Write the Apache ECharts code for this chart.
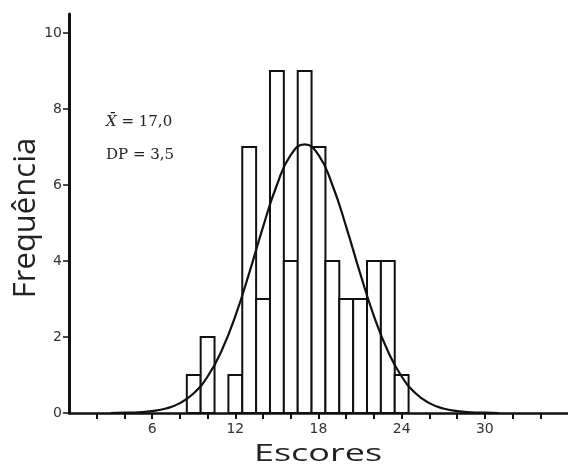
<!DOCTYPE html>
<html>
<head>
<meta charset="utf-8">
<script src="https://cdn.jsdelivr.net/npm/echarts@6/dist/echarts.min.js"></script>
<style>html,body{margin:0;padding:0;background:#fff}#c{width:568px;height:465px}</style>
</head>
<body>
<div id="c"></div>
<script>
// Histogram bins (score centers) and frequencies
const binCenters = [9, 10, 11, 12, 13, 14, 15, 16, 17, 18, 19, 20, 21, 22, 23, 24];
const frequencies = [1, 2, 0, 1, 7, 3, 9, 4, 9, 7, 4, 3, 3, 4, 4, 1];
// Fitted curve
const curveX = [3, 4, 5, 6, 7, 8, 9, 10, 11, 12, 13, 14, 15, 16, 17, 18, 19, 20, 21, 22, 23, 24, 25, 26, 27, 28, 29, 30, 31];
const curveY = [0.00, 0.01, 0.02, 0.05, 0.12, 0.26, 0.52, 0.96, 1.63, 2.55, 3.68, 4.90, 6.00, 6.79, 7.07, 6.79, 6.00, 4.90, 3.68, 2.55, 1.63, 0.96, 0.52, 0.26, 0.12, 0.05, 0.02, 0.01, 0.00];
// Tick marks and labels
const xTicks = [2, 4, 6, 8, 10, 12, 14, 16, 18, 20, 22, 24, 26, 28, 30, 32, 34];
const xLabels = [6, 12, 18, 24, 30];
const yTicks = [0, 2, 4, 6, 8, 10];
const xTitle = 'Escores';
const yTitle = 'Frequência';
const meanLabel = 'X\u0304';
const meanValue = ' = 17,0';
const sdText = 'DP = 3,5';

const chart = echarts.init(document.getElementById('c'), null, {renderer: 'canvas'});
chart.setOption({
  animation: false,
  backgroundColor: '#fff',
  grid: {left: 69, right: -3, top: 14, bottom: 52, containLabel: false},
  xAxis: {
    type: 'value', min: 0, max: 36,
    axisLine: {show: true, lineStyle: {color: '#111', width: 2.5}},
    axisTick: {show: true, inside: false, length: 6, customValues: xTicks, lineStyle: {color: '#111', width: 2}},
    axisLabel: {customValues: xLabels, fontFamily: 'DejaVu Sans', fontSize: 14, color: '#333', margin: 9},
    splitLine: {show: false}
  },
  yAxis: {
    type: 'value', min: 0, max: 10.5,
    axisLine: {show: true, lineStyle: {color: '#111', width: 3}},
    axisTick: {show: true, inside: false, length: 6, customValues: yTicks, lineStyle: {color: '#111', width: 1.5}},
    axisLabel: {customValues: yTicks, fontFamily: 'DejaVu Sans', fontSize: 14, color: '#333', margin: 7},
    splitLine: {show: false}
  },
  series: [
    {
      type: 'custom',
      data: binCenters.map((x, i) => [x, frequencies[i]]),
      encode: {x: 0, y: 1},
      renderItem: function (params, api) {
        const x = api.value(0), y = api.value(1);
        if (!y) return null;
        const p0 = api.coord([x - 0.5, y]);
        const p1 = api.coord([x + 0.5, 0]);
        return {
          type: 'rect',
          shape: {x: p0[0], y: p0[1], width: p1[0] - p0[0], height: p1[1] - p0[1]},
          style: {fill: '#fff', stroke: '#111', lineWidth: 2}
        };
      }
    },
    {
      type: 'line',
      data: curveX.map((x, i) => [x, curveY[i]]),
      smooth: true,
      showSymbol: false,
      lineStyle: {color: '#111', width: 2.2},
      z: 5
    }
  ],
  graphic: [
    {type: 'text', x: 106, y: 122, style: {
      text: '{i|' + meanLabel + '}{n|' + meanValue + '}',
      verticalAlign: 'middle',
      rich: {
        i: {fontFamily: 'DejaVu Serif', fontStyle: 'italic', fontSize: 15, fill: '#222'},
        n: {fontFamily: 'DejaVu Serif', fontSize: 15, fill: '#222'}
      }
    }},
    {type: 'text', x: 106, y: 155, style: {text: sdText, font: '15px "DejaVu Serif"', fill: '#222', verticalAlign: 'middle'}},
    {type: 'text', x: 318, y: 454, scaleX: 1.5, style: {text: xTitle, font: '24px "Open Sans"', fill: '#222', align: 'center', verticalAlign: 'middle'}},
    {type: 'text', x: 26, y: 218, rotation: Math.PI / 2, style: {text: yTitle, font: '31px "Open Sans"', fill: '#222', align: 'center', verticalAlign: 'middle'}}
  ]
});
</script>
</body>
</html>
